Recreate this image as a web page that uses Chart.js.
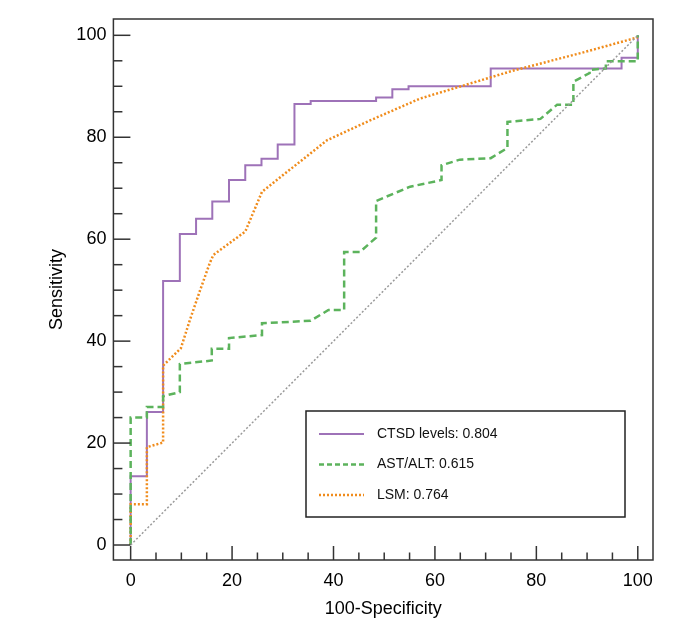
<!DOCTYPE html>
<html>
<head>
<meta charset="utf-8">
<script src="https://cdn.jsdelivr.net/npm/chart.js@4.4.1/dist/chart.umd.min.js"></script>
<style>
  body { margin: 0; background: #fff; }
</style>
</head>
<body>
<canvas id="rocChart" width="693" height="632"></canvas>
<script>
// ROC curves, values (x = 100-Specificity, y = Sensitivity)
const ctsdX = [0, 0, 3.2, 3.2, 6.4, 6.4, 9.7, 9.7, 12.9, 12.9, 16.1, 16.1, 19.4, 19.4, 22.6, 22.6, 25.8, 25.8, 29.0, 29.0, 32.3, 32.3, 35.5, 35.5, 48.4, 48.4, 51.6, 51.6, 54.8, 54.8, 71.0, 71.0, 96.8, 96.8, 100, 100];
const ctsdY = [0, 13.5, 13.5, 26.1, 26.1, 51.8, 51.8, 61.0, 61.0, 64.0, 64.0, 67.4, 67.4, 71.6, 71.6, 74.5, 74.5, 75.8, 75.8, 78.6, 78.6, 86.5, 86.5, 87.1, 87.1, 87.8, 87.8, 89.4, 89.4, 90.0, 90.0, 93.5, 93.5, 95.6, 95.6, 100];

const astX = [0, 0, 3.2, 3.2, 6.4, 6.4, 9.7, 9.7, 16.0, 16.0, 19.4, 19.4, 25.9, 25.9, 35.5, 39.0, 42.1, 42.1, 45.2, 48.4, 48.4, 55.1, 61.3, 61.3, 64.9, 71.0, 74.3, 74.3, 80.8, 84.1, 87.3, 87.3, 90.5, 90.5, 93.7, 93.7, 100, 100];
const astY = [0, 25.0, 25.0, 27.1, 27.1, 29.2, 30.0, 35.5, 36.2, 38.5, 38.5, 40.6, 41.2, 43.5, 44.0, 46.1, 46.1, 57.5, 57.5, 60.3, 67.5, 70.3, 71.6, 74.5, 75.6, 75.9, 77.9, 83.0, 83.6, 86.4, 86.4, 90.9, 92.6, 93.2, 93.5, 94.9, 94.9, 100];

const lsmX = [0, 0, 3.2, 3.2, 6.4, 6.4, 9.9, 11.7, 13.7, 15.6, 16.3, 22.6, 25.9, 38.7, 47.2, 57.1, 75.5, 88.7, 100];
const lsmY = [0, 8.0, 8.0, 19.2, 20.1, 35.2, 38.6, 44.2, 50.0, 55.3, 56.9, 61.5, 69.3, 79.4, 83.3, 87.6, 93.1, 96.5, 99.6];

const refX = [0, 100];
const refY = [0, 100];

const labels = ["CTSD levels: 0.804", "AST/ALT: 0.615", "LSM: 0.764"];
const xTicks = [0, 20, 40, 60, 80, 100];
const yTicks = [0, 20, 40, 60, 80, 100];
const minorStep = 5;

const toPoints = (xs, ys) => xs.map((x, i) => ({ x: x, y: ys[i] }));

// frame + inward tick marks
const frameTicks = {
    id: "frameTicks",
    afterDraw(chart) {
        const { ctx, chartArea: a, scales } = chart;
        ctx.save();
        ctx.strokeStyle = "#333";
        ctx.lineWidth = 1.5;
        ctx.strokeRect(a.left, a.top, a.right - a.left, a.bottom - a.top);
        for (let v = 0; v <= 100; v += minorStep) {
            const major = v % 20 === 0;
            const px = scales.x.getPixelForValue(v);
            ctx.beginPath();
            ctx.moveTo(px, a.bottom);
            ctx.lineTo(px, a.bottom - (major ? 14 : 7.5));
            ctx.stroke();
            const py = scales.y.getPixelForValue(v);
            ctx.beginPath();
            ctx.moveTo(a.left, py);
            ctx.lineTo(a.left + (major ? 17 : 9), py);
            ctx.stroke();
        }
        ctx.restore();
    },
};

// boxed legend in the lower right of the plot, in the order of `labels`
const boxLegend = {
    id: "boxLegend",
    afterDraw(chart) {
        const { ctx, chartArea: a } = chart;
        const w = 319, h = 106;
        const left = a.right - 28 - w;
        const top = a.bottom - 43 - h;
        ctx.save();
        ctx.fillStyle = "#fff";
        ctx.fillRect(left, top, w, h);
        ctx.strokeStyle = "#222";
        ctx.lineWidth = 1.5;
        ctx.strokeRect(left, top, w, h);
        ctx.font = "14px 'Liberation Sans', Arial, sans-serif";
        ctx.textBaseline = "middle";
        labels.forEach((lab, i) => {
            const d = chart.data.datasets.find((ds) => ds.label === lab);
            const y = top + 23 + i * 30.5;
            ctx.strokeStyle = d.borderColor;
            ctx.lineWidth = d.borderWidth;
            ctx.setLineDash(d.legendDash || []);
            ctx.beginPath();
            ctx.moveTo(left + 13, y);
            ctx.lineTo(left + 58, y);
            ctx.stroke();
            ctx.setLineDash([]);
            ctx.fillStyle = "#111";
            ctx.fillText(lab, left + 71, y);
        });
        ctx.restore();
    },
};

const font = { family: "'Liberation Sans', Arial, sans-serif", size: 18 };

const ctx = document.getElementById("rocChart").getContext("2d");
new Chart(ctx, {
    type: "scatter",
    data: {
        datasets: [
            {
                data: toPoints(refX, refY),
                borderColor: "#9a9a9a",
                borderWidth: 1.5,
                borderDash: [2, 2],
            },
            {
                label: labels[1],
                data: toPoints(astX, astY),
                borderColor: "#5cb35c",
                borderWidth: 2.5,
                borderDash: [7, 4],
                legendDash: [5, 3],
            },
            {
                label: labels[2],
                data: toPoints(lsmX, lsmY),
                borderColor: "#f08c1c",
                borderWidth: 2.5,
                borderDash: [2, 2],
                legendDash: [2, 2],
            },
            {
                label: labels[0],
                data: toPoints(ctsdX, ctsdY),
                borderColor: "#9e72b8",
                borderWidth: 2,
            },
        ],
    },
    options: {
        responsive: false,
        animation: false,
        showLine: true,
        elements: { point: { radius: 0 }, line: { tension: 0 } },
        layout: { padding: { left: 0, top: 19, right: 40, bottom: 0 } },
        plugins: { legend: { display: false }, tooltip: { enabled: false } },
        scales: {
            x: {
                type: "linear",
                min: -3.4,
                max: 103,
                afterBuildTicks: (scale) => { scale.ticks = xTicks.map((v) => ({ value: v })); },
                afterFit: (scale) => { scale.height = 72; },
                grid: { display: false, drawTicks: false },
                border: { display: false },
                ticks: { color: "#000", font: font, padding: 10.5, maxRotation: 0 },
                title: { display: true, text: "100-Specificity", color: "#000", font: font, padding: { top: 0, bottom: 12 } },
            },
            y: {
                type: "linear",
                min: -2.94,
                max: 103.2,
                afterBuildTicks: (scale) => { scale.ticks = yTicks.map((v) => ({ value: v })); },
                afterFit: (scale) => { scale.width = 113.4; },
                grid: { display: false, drawTicks: false },
                border: { display: false },
                ticks: { color: "#000", font: font, padding: 7 },
                title: { display: true, text: "Sensitivity", color: "#000", font: font, padding: { top: 46, bottom: 0 } },
            },
        },
    },
    plugins: [frameTicks, boxLegend],
});
</script>
</body>
</html>
